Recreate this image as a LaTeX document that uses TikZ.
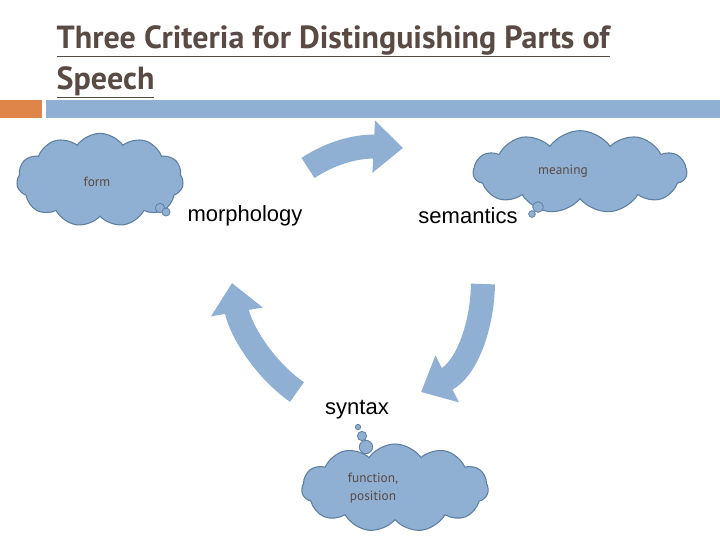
\documentclass[tikz,border=0pt]{standalone}
\usepackage{fontspec}
\setmainfont{Liberation Sans}
\newfontfamily\titlefont{PT Sans}
\usetikzlibrary{shapes.symbols,arrows.meta}
\definecolor{cl}{HTML}{8FB0D2}
\definecolor{cle}{HTML}{5F7F9F}
\definecolor{tb}{HTML}{5A4A44}
\definecolor{org}{HTML}{E0854A}
\begin{document}
\begin{tikzpicture}[x=0.75pt,y=-0.75pt,
  cloudbox/.style={cloud,cloud puffs=11,cloud puff arc=110,aspect=1.8,fill=cl,draw=cle,line width=0.8pt,inner sep=0pt},
  bub/.style={circle,fill=cl,draw=cle,line width=0.6pt,inner sep=0pt},
  small/.style={font=\titlefont\fontsize{10}{13}\selectfont,text=tb},
  lbl/.style={font=\fontsize{16.5}{18}\selectfont},
  ttl/.style={anchor=base west,text=tb,font=\titlefont\bfseries\fontsize{24}{28}\selectfont},
  flow/.style={cl,line width=18pt,-{Triangle[width=38pt,length=22pt]}}]
\useasboundingbox (0,0) rectangle (720,540);
\node[ttl] (t1) at (52,48) {\underline{Three Criteria for Distinguishing Parts of}};
\node[ttl] (t2) at (52,89) {\underline{Speech}};
\fill[org] (0,100) rectangle (42,118);
\fill[cl] (46,100) rectangle (720,118);
\node[cloudbox,minimum width=125,minimum height=70] (c1) at (100,180) {};
\node[small] (f) at (97,182) {form};
\node[cloudbox,minimum width=160,minimum height=62] (c2) at (580,172) {};
\node[small] (m) at (563,171) {meaning};
\node[cloudbox,minimum width=140,minimum height=66] (c3) at (395,488) {};
\node[small,align=center] (fp) at (373,488) {function,\\position};
\node[bub,minimum size=7] (b1) at (160,208) {};
\node[bub,minimum size=6] (b2) at (166,212) {};
\node[bub,minimum size=8] (b3) at (538,207) {};
\node[bub,minimum size=5] (b4) at (532,214) {};
\node[bub,minimum size=4] (b5) at (358,427) {};
\node[bub,minimum size=7] (b6) at (362,436) {};
\node[bub,minimum size=10] (b7) at (366,447) {};
\node[lbl] (mo) at (245,216) {morphology};
\node[lbl] (se) at (468,216) {semantics};
\node[lbl] (sy) at (357,410) {syntax};
\coordinate (a1s) at (308,168);
\coordinate (a1e) at (403,148);
\coordinate (a2s) at (483,284);
\coordinate (a2e) at (421,392);
\coordinate (a3s) at (297,392);
\coordinate (a3e) at (232,283);
\draw[flow] (a1s) .. controls (335,150) and (362,146) .. (a1e);
\draw[flow] (a2s) .. controls (482,330) and (465,370) .. (a2e);
\draw[flow] (a3s) .. controls (265,370) and (240,330) .. (a3e);
\end{tikzpicture}
\end{document}
